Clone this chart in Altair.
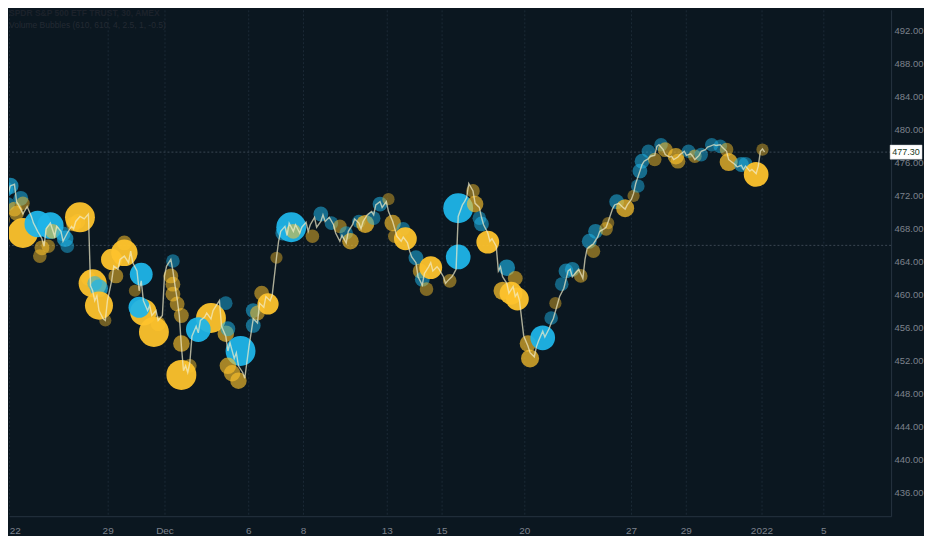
import altair as alt
import pandas as pd

# ---------------- data ----------------
# 30-minute bars, index counted from the open of 22 Nov 2021; close price (USD)
line_bar = [
    -1, 0, 2, 4, 5, 7, 8, 10, 12, 13, 15, 17, 18, 19, 21, 23, 24, 26, 27, 29, 31, 32, 33, 35, 37, 39,
    40, 41, 42, 43, 44, 46, 47,
    48, 50, 51, 53, 54, 56, 58, 59, 60, 62,
    63, 64, 65, 67, 68, 69, 71, 72, 74,
    75, 76, 78, 79, 80, 81, 82, 83, 84, 85, 86, 87,
    88, 90, 91, 92, 94, 95, 97, 98, 100,
    101, 102, 104, 105, 106, 108, 109, 110, 112, 113,
    115, 116, 117, 119, 120, 122, 123, 125, 126,
    128, 129, 130, 132, 133, 134, 136, 137, 139, 140,
    142, 143, 144, 146, 147, 149, 150, 151, 153,
    155, 156, 158, 159, 161, 162, 164, 165, 167,
    168, 169, 171, 173, 174, 175, 177, 178, 180,
    181, 183, 184, 185, 187, 188, 190, 191, 192,
    194, 195, 197, 198, 200, 201, 202, 204, 205,
    207, 208, 209, 211, 212, 213, 214, 216, 217, 218,
    219, 221, 222, 224, 225, 226, 228, 229, 230, 232,
    233, 234, 235, 237, 238, 240, 241, 242, 243,
    245, 247, 248, 250, 251, 252, 254, 255, 257, 258,
    259, 261, 262, 264, 266, 267, 268, 269, 271,
    273, 274, 275, 277, 278, 280, 281, 283, 284,
    285, 287, 288, 290, 292, 293, 294,
    296, 297, 298, 300, 301, 302, 304, 305, 307, 308,
    309, 311, 312, 314, 315, 316, 318, 319, 321,
    322, 324, 325, 326, 328, 329, 331, 332, 333,
    335, 336, 338, 339, 341, 342,
    343, 345, 346, 348, 349, 350, 352, 353, 355, 356,
    357, 358, 359,
]
line_close = [
    469.2, 471.3, 473.2, 473.4, 471.3, 470.4, 469.8, 470.7, 469.5, 468.7, 467.7, 466.8, 465.9, 468.0, 468.7, 467.1, 468.3, 467.7, 466.5, 467.5, 468.3, 468.0, 468.9, 469.5, 469.2, 469.8,
    461.1, 460.5, 459.3, 459.9, 458.1, 457.1, 456.9,
    459.3, 461.7, 463.5, 463.1, 464.3, 464.7, 463.9, 465.3, 463.9, 462.9,
    460.5, 461.7, 459.3, 458.1, 458.7, 457.5, 458.1, 456.9, 457.5,
    462.3, 463.5, 464.3, 462.9, 461.1, 459.5, 457.5, 453.8, 450.8, 451.4, 450.6, 451.8,
    455.0, 456.2, 455.4, 456.9, 457.3, 457.8, 457.1, 458.1, 458.9,
    459.3, 456.2, 455.0, 453.2, 454.2, 452.3, 453.0, 451.4, 450.6, 449.9,
    453.8, 455.4, 457.1, 456.6, 459.0, 458.5, 459.8, 459.3, 460.0,
    464.5, 466.5, 467.7, 468.3, 467.2, 468.7, 467.7, 468.5, 467.5, 468.2,
    468.8, 467.7, 468.5, 469.4, 468.2, 468.9, 469.7, 468.9, 469.4,
    468.5, 467.5, 466.5, 467.2, 466.3, 467.7, 468.5, 469.2, 468.7,
    468.0, 468.9, 469.7, 470.1, 469.7, 470.9, 471.3, 470.6, 471.3,
    470.1, 468.9, 468.0, 467.1, 466.5, 467.0, 466.3, 465.3, 464.6,
    463.9, 462.2, 461.2, 462.6, 463.4, 463.9, 462.9, 463.4, 463.1,
    462.2, 461.4, 461.7, 462.2, 462.6, 463.1, 469.5, 470.9, 471.3, 471.8,
    473.5, 472.6, 471.1, 470.6, 469.4, 468.5, 467.5, 466.5, 466.8, 465.9,
    462.9, 463.4, 462.2, 461.4, 460.2, 461.0, 459.8, 460.2, 459.3,
    455.0, 453.8, 453.0, 452.5, 453.7, 454.4, 455.6, 454.9, 455.9, 456.6,
    457.1, 458.9, 459.8, 460.8, 462.9, 463.1, 462.2, 462.5, 463.1,
    462.0, 464.3, 465.6, 466.0, 466.2, 467.0, 467.7, 468.0, 468.2,
    468.9, 470.4, 470.9, 471.1, 470.6, 470.4, 470.9,
    471.6, 472.3, 473.5, 475.0, 475.8, 476.2, 476.5, 476.8, 476.9, 478.0,
    478.2, 477.6, 477.0, 476.7, 476.8, 476.4, 476.7, 477.0, 477.4,
    476.9, 477.1, 476.8, 476.4, 476.9, 477.4, 477.6, 477.9, 478.0,
    478.2, 478.1, 478.2, 477.9, 477.4, 476.4,
    476.2, 475.8, 475.5, 475.7, 475.2, 475.6, 475.0, 475.2, 474.7, 475.6,
    477.4, 477.7, 477.3,
]

# volume bubbles: bar index, price level, volume (millions of shares), bar direction
bub_bar = [
    -1, 0, 2, 1, 4, 5, 7, 8, 8, 15, 21, 17, 16, 20, 22, 27, 28, 29, 32, 34, 35,
    39, 41, 42, 44, 44, 47, 50, 52, 56, 56, 64, 61, 65, 63, 70, 72,
    79, 78, 79, 79, 81, 83, 83, 83, 87, 97, 91, 104, 104, 105, 111, 105, 107, 110,
    117, 117, 119, 121, 124, 128, 131, 135, 136, 145, 149, 154, 158, 161, 163, 167, 170, 174, 177,
    181, 183, 184, 188, 189, 194, 196, 197, 199, 201, 210, 214, 214, 221, 222, 224, 225, 228, 237, 235, 239, 242, 241,
    247, 248, 254, 258, 260, 263, 265, 268, 272, 276, 278, 279, 284, 285, 289, 293, 297, 299, 300, 301,
    304, 307, 310, 312, 317, 318, 323, 326, 329, 334, 338, 341, 342, 348, 350, 355, 358,
]
bub_price = [
    469.1, 472.8, 473.2, 471.0, 470.4, 469.9, 471.7, 471.1, 467.5, 468.6, 468.4, 465.7, 464.7, 465.9, 467.7, 467.4, 466.8, 465.9, 468.6, 468.9, 469.4,
    462.0, 461.4, 461.4, 460.8, 458.7, 456.9, 464.3, 462.3, 465.1, 466.3, 462.5, 460.5, 457.9, 458.5, 455.5, 456.5,
    464.1, 462.3, 461.3, 460.1, 458.9, 457.5, 454.1, 450.3, 451.4, 457.2, 455.8, 459.0, 455.3, 455.9, 453.2, 451.4, 450.5, 449.6,
    458.1, 456.3, 457.8, 460.2, 458.9, 464.5, 467.5, 468.2, 467.7, 467.1, 469.8, 468.7, 468.3, 467.5, 466.5, 468.9, 468.6, 469.3, 471.0,
    471.6, 468.7, 467.1, 468.0, 466.8, 464.5, 462.9, 461.9, 460.7, 463.3, 461.7, 464.6, 470.5, 472.6, 471.0, 469.3, 468.6, 466.4, 463.3, 460.5, 460.2, 459.5, 462.0,
    454.1, 452.3, 454.8, 457.2, 459.0, 461.3, 462.9, 463.1, 462.3, 466.5, 465.3, 467.7, 468.0, 468.7, 471.3, 470.5, 472.0, 473.2, 475.0, 476.2,
    477.4, 476.4, 478.2, 477.6, 476.8, 476.2, 477.4, 476.8, 477.0, 478.2, 478.0, 477.6, 476.1, 475.8, 475.9, 474.6, 477.6,
]
bub_vol = [
    0.6, 1.4, 2.0, 1.0, 1.4, 1.4, 1.4, 1.0, 9.0, 6.8, 6.8, 1.4, 1.0, 1.0, 1.4, 1.4, 2.0, 1.0, 1.4, 1.4, 9.0,
    1.4, 7.8, 1.4, 2.6, 7.8, 0.6, 4.0, 1.4, 6.8, 1.4, 4.8, 0.6, 6.8, 4.0, 9.0, 1.4,
    1.0, 1.4, 1.4, 1.4, 1.4, 1.4, 2.0, 9.0, 1.0, 9.0, 5.8, 1.0, 2.0, 1.4, 9.0, 2.0, 2.0, 2.0,
    1.4, 1.4, 1.4, 1.4, 4.0, 0.6, 1.4, 9.0, 1.4, 1.0, 1.4, 1.0, 1.0, 1.0, 2.0, 1.0, 2.6, 1.0, 1.4,
    0.6, 2.0, 1.0, 1.0, 4.8, 1.4, 1.4, 1.4, 1.0, 4.8, 1.0, 5.8, 9.0, 1.0, 2.0, 1.0, 1.4, 4.8, 2.0, 2.6, 4.8, 4.8, 1.4,
    2.0, 2.6, 5.8, 1.0, 0.6, 1.0, 1.4, 1.4, 1.0, 1.4, 1.0, 1.4, 1.0, 0.6, 1.4, 2.6, 0.6, 1.0, 1.4, 1.4,
    1.0, 1.0, 1.0, 1.4, 2.0, 1.4, 1.0, 1.0, 1.0, 1.0, 1.0, 1.0, 2.6, 1.4, 1.0, 5.8, 0.6,
]
bub_dir = [
    "down", "up", "up", "up", "down", "down", "up", "down", "down", "up", "up", "down", "down", "down", "down", "up", "up", "up", "down", "down", "down",
    "down", "down", "up", "up", "down", "down", "down", "down", "down", "down", "up", "down", "down", "up", "down", "down",
    "up", "down", "down", "down", "down", "down", "down", "down", "down", "down", "up", "up", "down", "up", "up", "down", "down", "down",
    "up", "up", "down", "down", "down", "down", "up", "up", "down", "down", "up", "up", "down", "up", "down", "up", "down", "up", "up",
    "down", "down", "down", "up", "down", "up", "down", "up", "down", "down", "down", "up", "up", "down", "down", "up", "up", "down", "up", "down", "down", "down", "down",
    "down", "down", "up", "up", "down", "up", "up", "up", "down", "up", "down", "up", "down", "down", "up", "down", "down", "up", "up", "up",
    "up", "down", "up", "down", "down", "down", "up", "down", "up", "up", "up", "down", "down", "up", "up", "down", "down",
]

tick_pos = [1.5, 48.1, 75.0, 114.6, 140.6, 180.2, 206.1, 245.3, 295.8, 321.7, 357.5, 386.8]
tick_lab = ["22", "29", "Dec", "6", "8", "13", "15", "20", "27", "29", "2022", "5"]
price_ticks = [436, 440, 444, 448, 452, 456, 460, 464, 468, 472, 476, 480, 484, 488, 492]
last_price = 477.30
level_price = 466.0
title_main = "SPDR S&P 500 ETF TRUST, 30, AMEX"
title_sub = "Volume Bubbles (610, 610, 4, 2.5, 1, -0.5)"

# ---------------- styling ----------------
BG = "#0b1720"
FONT = "Liberation Sans Narrow, Liberation Sans, sans-serif"
AXIS_TXT = "#7d828c"
UP_C = "#1fb4e8"
DN_C = "#fdc22c"

line_df = pd.DataFrame({"bar": line_bar, "price": line_close})
bub_df = pd.DataFrame({"bar": bub_bar, "price": bub_price, "vol": bub_vol, "dir": bub_dir})
lvl_df = pd.DataFrame({"price": [level_price, last_price]})
tag_df = pd.DataFrame({"price": [last_price], "lo": [last_price - 0.85], "hi": [last_price + 0.85],
                       "txt": [f"{last_price:.2f}"]})
ttl_df = pd.DataFrame({"t": [title_main]})
sub_df = pd.DataFrame({"t": [title_sub]})

x_dom = [1.415, 418.87]
y_dom = [433.18, 494.54]

lab_expr = ("[" + ",".join(f"'{l}'" for l in tick_lab) + "][indexof(["
            + ",".join(str(p) for p in tick_pos) + "], datum.value)]")

x_axis = alt.Axis(values=tick_pos, labelExpr=lab_expr, grid=True, gridColor="#1c2a36",
                  gridDash=[2, 2], gridWidth=1, ticks=False, domain=True, domainColor="#26333f",
                  labelColor=AXIS_TXT, labelFont=FONT, labelFontSize=10, labelPadding=9,
                  labelOverlap=False, title=None)
y_axis = alt.Axis(orient="right", values=price_ticks, format=".2f", grid=False, ticks=False,
                  domain=True, domainColor="#26333f", labelColor=AXIS_TXT, labelFont=FONT,
                  labelFontSize=9.5, labelPadding=3, labelOverlap=False, title=None)

x_scale = alt.Scale(domain=x_dom, nice=False, zero=False)
y_scale = alt.Scale(domain=y_dom, nice=False, zero=False)
X = alt.X("bar:Q", scale=x_scale, axis=x_axis)
Y = alt.Y("price:Q", scale=y_scale, axis=y_axis)

bubbles = alt.Chart(bub_df).mark_circle(clip=True).encode(
    x=X, y=Y,
    size=alt.Size("vol:Q", scale=alt.Scale(domain=[0.6, 9], range=[150, 900]), legend=None),
    color=alt.Color("dir:N", scale=alt.Scale(domain=["up", "down"], range=[UP_C, DN_C]), legend=None),
    opacity=alt.Opacity("vol:Q", scale=alt.Scale(domain=[0.6, 4.0], range=[0.42, 0.95], clamp=True),
                        legend=None),
)

levels = alt.Chart(lvl_df).mark_rule(color="#3a4652", strokeDash=[2, 2], strokeWidth=1).encode(y=Y)

line = alt.Chart(line_df).mark_line(color="#f2eecb", opacity=0.7, strokeWidth=1.4, clip=True).encode(
    x=X, y=Y)

tag_box = alt.Chart(tag_df).mark_rect(fill="#ffffff", stroke="#d0d4d8", strokeWidth=0.5).encode(
    y=alt.Y("lo:Q", scale=y_scale, axis=y_axis), y2=alt.Y2("hi:Q"),
    x=alt.value(884), x2=alt.value(916))
tag_txt = alt.Chart(tag_df).mark_text(font=FONT, fontSize=9, color="#17381b", align="center",
                                      baseline="middle").encode(
    y=Y, x=alt.value(900), text="txt:N")

ttl = alt.Chart(ttl_df).mark_text(font=FONT, fontSize=8.5, fontWeight="bold", color="#1c222b",
                                  align="left", baseline="middle").encode(
    x=alt.value(0), y=alt.value(3), text="t:N")
sub = alt.Chart(sub_df).mark_text(font=FONT, fontSize=8.5, color="#232a33",
                                  align="left", baseline="middle").encode(
    x=alt.value(0), y=alt.value(15), text="t:N")

chart = alt.layer(levels, bubbles, line, tag_box, tag_txt, ttl, sub).properties(
    width=885, height=508, background=BG, padding=0
).configure_view(stroke="transparent")

chart.save("out.html", embed_options={"renderer": "svg", "actions": False})
